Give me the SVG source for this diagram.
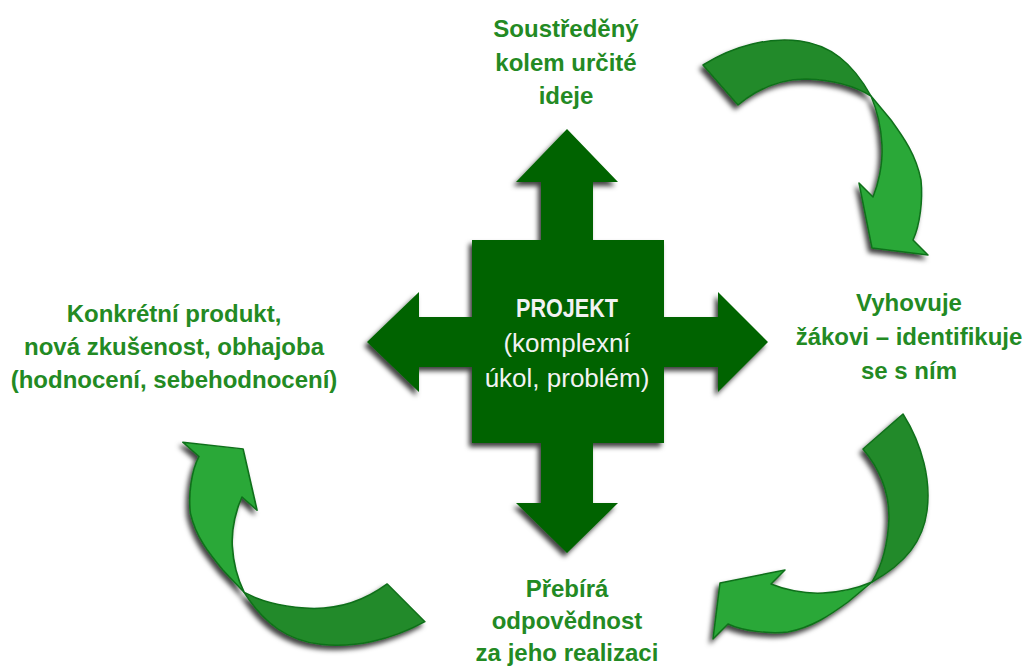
<svg xmlns="http://www.w3.org/2000/svg" width="1028" height="668" viewBox="0 0 1028 668">
<defs>
<filter id="sh" x="-20%" y="-20%" width="140%" height="140%">
<feGaussianBlur in="SourceAlpha" stdDeviation="2.5"/>
<feOffset dx="-3" dy="4" result="o"/>
<feFlood flood-color="#000" flood-opacity="0.75"/>
<feComposite in2="o" operator="in"/>
<feMerge><feMergeNode/><feMergeNode in="SourceGraphic"/></feMerge>
</filter>
<g id="curved">
<path class="dark" d="M703,65 C735,45 770,37 800,41 C830,45 852,62 871,96 C858,88 838,80 806,79 C780,79 757,89 738,105 Z"/>
<path class="light" d="M871,96 L891,120 C904,138 916,155 921,180 C923,200 920,225 913,240 L928,255 L872,248 L859,183 L873,197 C878,185 883,165 882,145 C881,125 877,110 871,96 Z"/>
</g>
</defs>
<style>
.dark{fill:#238a29;stroke:#11701a;stroke-width:1.5;stroke-linejoin:round}
.light{fill:#2aa838;stroke:#11701a;stroke-width:1.5;stroke-linejoin:round}
.lbl{font-family:"Liberation Sans",Arial,sans-serif;font-weight:bold;font-size:24px;fill:#238a23;text-anchor:middle}
.ctr{font-family:"Liberation Sans",Arial,sans-serif;font-size:26px;fill:#f2f2f2;text-anchor:middle}
</style>
<rect width="1028" height="668" fill="#ffffff"/>
<g id="connectors">
<g filter="url(#sh)"><use href="#curved"/></g>
<g filter="url(#sh)"><use href="#curved" transform="matrix(0,1,-1,0,968,-289)"/></g>
<g filter="url(#sh)"><use href="#curved" transform="matrix(-1.0756,0,0,-0.944,1181,683)"/></g>
</g>
<g id="center">
<path filter="url(#sh)" fill="#006400" d="M541,240 L541,182 L516,182 L567,129 L618,182 L593,182 L593,240 L664,240 L664,317 L718,317 L718,292 L768,342 L718,392 L718,367 L664,367 L664,443 L593,443 L593,503 L618,503 L567,553 L516,503 L541,503 L541,443 L472,443 L472,367 L419,367 L419,392 L367,342 L419,292 L419,317 L472,317 L472,240 Z"/>
<text class="ctr" x="567" y="317" font-weight="bold" font-size="23" textLength="102" lengthAdjust="spacingAndGlyphs">PROJEKT</text>
<text class="ctr" x="567" y="352">(komplexní</text>
<text class="ctr" x="567" y="387">úkol, problém)</text>
</g>
<g id="top">
<text class="lbl" x="566" y="37">Soustředěný</text>
<text class="lbl" x="566" y="71">kolem určité</text>
<text class="lbl" x="566" y="104">ideje</text>
</g>
<g id="right">
<text class="lbl" x="909" y="311">Vyhovuje</text>
<text class="lbl" x="909" y="345">žákovi – identifikuje</text>
<text class="lbl" x="909" y="379">se s ním</text>
</g>
<g id="bottom">
<text class="lbl" x="567" y="597">Přebírá</text>
<text class="lbl" x="567" y="629">odpovědnost</text>
<text class="lbl" x="567" y="661">za jeho realizaci</text>
</g>
<g id="left">
<text class="lbl" x="174" y="322">Konkrétní produkt,</text>
<text class="lbl" x="174" y="355">nová zkušenost, obhajoba</text>
<text class="lbl" x="174" y="388">(hodnocení, sebehodnocení)</text>
</g>
</svg>
